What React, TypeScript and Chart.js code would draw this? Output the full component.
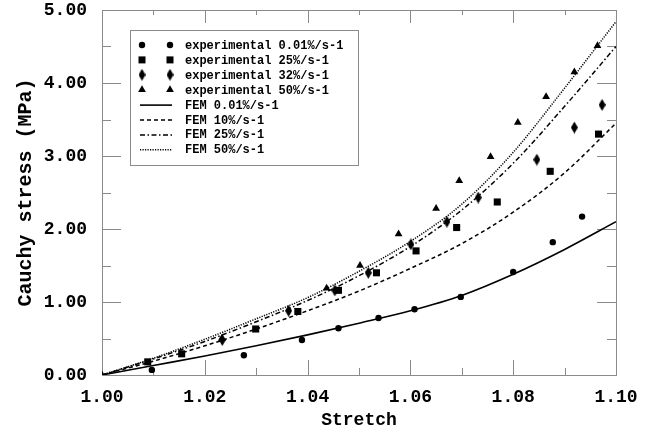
import React, { useEffect, useRef } from 'react';
import { Chart, registerables } from 'chart.js';

Chart.register(...registerables);

// ---------- data ----------
const FEM_STRETCH = [1.0, 1.01, 1.02, 1.03, 1.04, 1.05, 1.06, 1.07, 1.08, 1.09, 1.1];
const FEM_001 = [0, 0.13, 0.26, 0.4, 0.55, 0.71, 0.88, 1.09, 1.38, 1.72, 2.1];
const FEM_10 = [0, 0.19, 0.4, 0.63, 0.88, 1.15, 1.46, 1.8, 2.23, 2.77, 3.45];
const FEM_25 = [0, 0.22, 0.46, 0.73, 1.02, 1.36, 1.76, 2.26, 2.9, 3.68, 4.5];
const FEM_50 = [0, 0.23, 0.49, 0.77, 1.06, 1.42, 1.83, 2.34, 3.05, 3.93, 4.84];

const EXP_001_X = [1.0097, 1.0276, 1.0389, 1.046, 1.0538, 1.0608, 1.0698, 1.08, 1.0877, 1.0934];
const EXP_001_Y = [0.07, 0.27, 0.48, 0.64, 0.78, 0.9, 1.07, 1.41, 1.82, 2.17];

const EXP_25_X = [1.0089, 1.0155, 1.0299, 1.0381, 1.046, 1.0534, 1.0611, 1.069, 1.0769, 1.0872, 1.0966];
const EXP_25_Y = [0.18, 0.29, 0.63, 0.87, 1.16, 1.4, 1.7, 2.02, 2.37, 2.79, 3.3];

const EXP_32_X = [1.0234, 1.0363, 1.0453, 1.0518, 1.0601, 1.0671, 1.0732, 1.0846, 1.0919, 1.0973];
const EXP_32_Y = [0.48, 0.88, 1.16, 1.4, 1.79, 2.1, 2.43, 2.95, 3.39, 3.7];

const EXP_50_X = [1.0, 1.0233, 1.0437, 1.0502, 1.0577, 1.065, 1.0695, 1.0756, 1.0809, 1.0864, 1.0919, 1.0964];
const EXP_50_Y = [0, 0.5, 1.19, 1.5, 1.93, 2.28, 2.66, 2.99, 3.46, 3.81, 4.15, 4.51];

const X_LABEL_TICKS = [1.0, 1.02, 1.04, 1.06, 1.08, 1.1];
const X_MINOR_TICKS = [1.01, 1.03, 1.05, 1.07, 1.09];
const Y_LABEL_TICKS = [0, 1, 2, 3, 4, 5];
const Y_MINOR_TICKS = [0.5, 1.5, 2.5, 3.5, 4.5];

const LABELS = [
  'experimental 0.01%/s-1',
  'experimental 25%/s-1',
  'experimental 32%/s-1',
  'experimental 50%/s-1',
  'FEM 0.01%/s-1',
  'FEM 10%/s-1',
  'FEM 25%/s-1',
  'FEM 50%/s-1',
];

const MONO = "'Liberation Mono', 'Courier New', 'DejaVu Sans Mono', monospace";
const AXIS_GRAY = '#8a8a8a';

function pts(xs: number[], ys: number[]) {
  return xs.map((x, i) => ({ x, y: ys[i] }));
}

function makeDiamond(): HTMLCanvasElement {
  const c = document.createElement('canvas');
  c.width = 7;
  c.height = 12;
  const g = c.getContext('2d')!;
  g.fillStyle = '#000';
  g.beginPath();
  g.moveTo(3.5, 0);
  g.lineTo(7, 6);
  g.lineTo(3.5, 12);
  g.lineTo(0, 6);
  g.closePath();
  g.fill();
  return c;
}

function drawMarker(ctx: CanvasRenderingContext2D, kind: string, x: number, y: number, diamond: HTMLCanvasElement) {
  ctx.fillStyle = '#000';
  ctx.beginPath();
  if (kind === 'circle') {
    ctx.arc(x, y, 3.2, 0, Math.PI * 2);
    ctx.fill();
  } else if (kind === 'rect') {
    ctx.fillRect(x - 3.5, y - 3.5, 7, 7);
  } else if (kind === 'diamond') {
    ctx.drawImage(diamond, x - 3.5, y - 6);
  } else if (kind === 'triangle') {
    ctx.moveTo(x, y - 4.5);
    ctx.lineTo(x + 3.9, y + 2.3);
    ctx.lineTo(x - 3.9, y + 2.3);
    ctx.closePath();
    ctx.fill();
  }
}

export default function App() {
  const ref = useRef<HTMLCanvasElement | null>(null);

  useEffect(() => {
    if (!ref.current) return;
    const diamond = makeDiamond();
    const MARKERS = ['circle', 'rect', 'diamond', 'triangle'];

    const framePlugin = {
      id: 'frameTicks',
      beforeDatasetsDraw(chart: any) {
        const { ctx, chartArea, scales } = chart;
        const { left, right, top, bottom } = chartArea;
        const xs = scales.x;
        const ys = scales.y;
        ctx.save();
        ctx.strokeStyle = AXIS_GRAY;
        ctx.lineWidth = 1;
        ctx.strokeRect(Math.round(left) + 0.5, Math.round(top) + 0.5, Math.round(right - left), Math.round(bottom - top));
        const vline = (v: number, lenB: number, lenT: number) => {
          const px = Math.round(xs.getPixelForValue(v)) + 0.5;
          ctx.beginPath();
          ctx.moveTo(px, bottom);
          ctx.lineTo(px, bottom - lenB);
          ctx.moveTo(px, top);
          ctx.lineTo(px, top + lenT);
          ctx.stroke();
        };
        const hline = (v: number, lenL: number, lenR: number) => {
          const py = Math.round(ys.getPixelForValue(v)) + 0.5;
          ctx.beginPath();
          ctx.moveTo(left, py);
          ctx.lineTo(left + lenL, py);
          ctx.moveTo(right, py);
          ctx.lineTo(right - lenR, py);
          ctx.stroke();
        };
        X_LABEL_TICKS.forEach((v) => vline(v, 15, 13));
        X_MINOR_TICKS.forEach((v) => vline(v, 7, 5));
        Y_LABEL_TICKS.forEach((v) => hline(v, 19, 19));
        Y_MINOR_TICKS.forEach((v) => hline(v, 9, 9));
        ctx.restore();
      },
    };

    const legendPlugin = {
      id: 'boxLegend',
      afterDraw(chart: any) {
        const { ctx, chartArea } = chart;
        const bx = chartArea.left + 28;
        const by = chartArea.top + 20;
        const bw = 228;
        const bh = 135;
        ctx.save();
        ctx.fillStyle = '#fff';
        ctx.fillRect(bx, by, bw, bh);
        ctx.strokeStyle = AXIS_GRAY;
        ctx.lineWidth = 1;
        ctx.strokeRect(bx + 0.5, by + 0.5, bw, bh);
        ctx.font = `bold 12px ${MONO}`;
        ctx.textBaseline = 'middle';
        ctx.textAlign = 'left';
        chart.data.datasets.forEach((ds: any, i: number) => {
          const ry = by + 15 + i * 14.9;
          const x1 = bx + 12;
          const x2 = bx + 40;
          if (i < 4) {
            drawMarker(ctx, MARKERS[i], x1, ry, diamond);
            drawMarker(ctx, MARKERS[i], x2, ry, diamond);
          } else {
            ctx.save();
            ctx.strokeStyle = '#000';
            ctx.lineWidth = ds.borderWidth;
            ctx.setLineDash(ds.borderDash || []);
            ctx.beginPath();
            ctx.moveTo(x1 - 2, ry + 0.5);
            ctx.lineTo(x2 + 2, ry + 0.5);
            ctx.stroke();
            ctx.restore();
          }
          ctx.fillStyle = '#000';
          ctx.fillText(ds.label, bx + 55, ry + 1);
        });
        ctx.restore();
      },
    };

    const font = { family: MONO, size: 18, weight: 'bold' as const };

    const expDs = (i: number, xs: number[], ys: number[], style: any, radius: number) => ({
      label: LABELS[i],
      data: pts(xs, ys),
      showLine: false,
      pointStyle: style,
      pointRadius: radius,
      pointBackgroundColor: '#000',
      pointBorderColor: '#000',
      pointBorderWidth: 0,
      borderColor: '#000',
      backgroundColor: '#000',
    });
    const femDs = (i: number, ys: number[], dash: number[], width: number) => ({
      label: LABELS[i],
      data: pts(FEM_STRETCH, ys),
      showLine: true,
      pointRadius: 0,
      borderColor: '#000',
      backgroundColor: '#000',
      borderWidth: width,
      borderDash: dash,
      cubicInterpolationMode: 'monotone' as const,
      fill: false,
    });

    const chart = new Chart(ref.current, {
      type: 'scatter',
      data: {
        datasets: [
          expDs(0, EXP_001_X, EXP_001_Y, 'circle', 3.2),
          expDs(1, EXP_25_X, EXP_25_Y, 'rect', 5),
          expDs(2, EXP_32_X, EXP_32_Y, diamond, 5),
          expDs(3, EXP_50_X, EXP_50_Y, 'triangle', 4.5),
          femDs(4, FEM_001, [], 1.6),
          femDs(5, FEM_10, [4, 3], 1.5),
          femDs(6, FEM_25, [5, 2.5, 1.5, 2.5], 1.5),
          femDs(7, FEM_50, [1.2, 1.3], 1.5),
        ] as any,
      },
      options: {
        responsive: false,
        animation: false,
        layout: { padding: { top: 10, right: 44, left: 0, bottom: 0 } },
        plugins: { legend: { display: false }, tooltip: { enabled: false } },
        scales: {
          x: {
            type: 'linear',
            min: 1,
            max: 1.1,
            afterBuildTicks: (s: any) => {
              s.ticks = X_LABEL_TICKS.map((value) => ({ value }));
            },
            afterFit: (s: any) => {
              s.height = 61;
              s.paddingLeft = 0;
              s.paddingRight = 0;
            },
            grid: { display: false, drawTicks: false },
            border: { display: false },
            ticks: {
              font,
              color: '#000',
              padding: 12,
              maxRotation: 0,
              autoSkip: false,
              callback: (v: any) => Number(v).toFixed(2),
            },
            title: {
              display: true,
              text: 'Stretch',
              font,
              color: '#000',
              padding: { top: 0, bottom: 5 },
            },
          },
          y: {
            type: 'linear',
            min: 0,
            max: 5,
            afterBuildTicks: (s: any) => {
              s.ticks = Y_LABEL_TICKS.map((value) => ({ value }));
            },
            afterFit: (s: any) => {
              s.width = 102;
              s.paddingTop = 0;
              s.paddingBottom = 0;
            },
            grid: { display: false, drawTicks: false },
            border: { display: false },
            ticks: {
              font,
              color: '#000',
              padding: 15,
              autoSkip: false,
              callback: (v: any) => Number(v).toFixed(2),
            },
            title: {
              display: true,
              text: 'Cauchy stress (MPa)',
              font: { family: MONO, size: 20, weight: 'bold' as const },
              color: '#000',
              padding: { top: 14, bottom: 0 },
            },
          },
        },
      } as any,
      plugins: [framePlugin, legendPlugin],
    });
    return () => chart.destroy();
  }, []);

  return (
    <canvas
      ref={ref}
      width={660}
      height={436}
      style={{ position: 'fixed', left: 0, top: 0, width: 660, height: 436, display: 'block', background: '#fff' }}
    />
  );
}
